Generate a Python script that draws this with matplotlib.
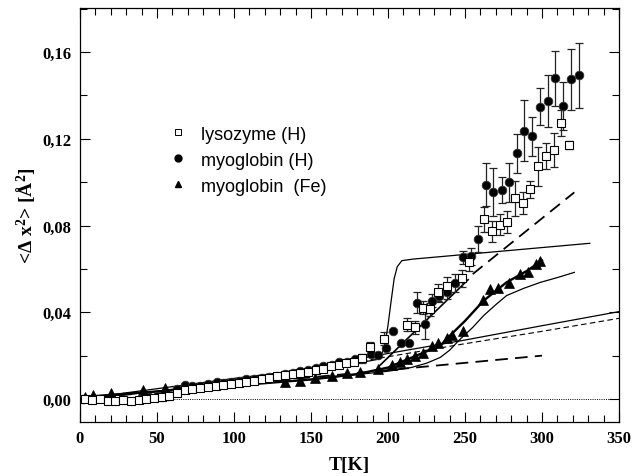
import matplotlib
matplotlib.use("Agg")
import matplotlib.pyplot as plt
from matplotlib.ticker import MultipleLocator, FuncFormatter
from matplotlib.lines import Line2D

# ---------------- data ----------------
lys_T = [3, 8, 13, 18, 23, 28, 33, 38, 43, 48, 53, 58, 63, 68, 73, 78, 83, 88, 93, 98,
         103, 108, 113, 118, 123, 128, 133, 138, 143, 148, 153, 158, 163, 168, 173, 178,
         183, 188, 197.6, 212.5, 217.5, 222.5, 227.3, 232.7, 238, 247.8, 252.8,
         262.6, 267.5, 272.5, 277.5, 282.7, 287.4, 292.4, 297.6, 302.6, 307.8, 312.5, 317.5]
lys_y = [0.0, -0.0005, 0.0, -0.0008, -0.0008, -0.0005, -0.001, -0.0005, 0.0, 0.0005,
         0.001, 0.0015, 0.003, 0.004, 0.0045, 0.005, 0.0055, 0.006, 0.0065, 0.007,
         0.0075, 0.008, 0.0085, 0.009, 0.0095, 0.0105, 0.011, 0.0115, 0.012, 0.0125,
         0.0135, 0.014, 0.015, 0.0155, 0.0165, 0.017, 0.0188, 0.0241, 0.0277, 0.0343,
         0.033, 0.042, 0.0415, 0.0492, 0.0522, 0.0556, 0.063,
         0.0828, 0.0773, 0.0804, 0.0816, 0.0925, 0.0904, 0.0967, 0.1073, 0.1119, 0.1148,
         0.1272, 0.1171]
lys_err = [0]*36 + [0.002, 0.002, 0.003, 0.003, 0.003, 0.003, 0.003, 0.004, 0.004, 0.004, 0.004,
         0.0057, 0.005, 0.005, 0.005, 0.008, 0.005, 0.004, 0.009, 0.006, 0.008, 0.006, 0.002]

myo_T = [2, 45, 50, 53, 57, 62.8, 68, 73, 78, 83, 88.7, 93, 98, 103, 108, 113, 118, 123,
         128, 133, 138, 143, 148, 153, 158, 163.4, 168.4, 173.6, 178.6, 188.7, 193.7,
         198.7, 203.5, 208.4, 213.6, 218.6, 223.8, 228.6, 233.3, 238.5, 243.5, 248.5,
         253.7, 258.7, 263.6, 268.4, 273.8, 278.6, 283.6, 288.5, 293.5, 298.7, 303.7,
         308.6, 313.6, 318.6, 323.8]
myo_y = [0.0, 0.001, 0.0012, 0.0008, 0.0013, 0.0046, 0.0064, 0.006, 0.0062, 0.007, 0.0077,
         0.0075, 0.0078, 0.0085, 0.009, 0.009, 0.0095, 0.01, 0.0105, 0.0115, 0.012, 0.013,
         0.0135, 0.0145, 0.015, 0.0157, 0.0172, 0.0172, 0.0184, 0.0207, 0.0203, 0.0234,
         0.0315, 0.0257, 0.0257, 0.0445, 0.0346, 0.0453, 0.0476, 0.0492, 0.0535, 0.0653,
         0.0658, 0.0738, 0.0988, 0.0956, 0.0965, 0.0999, 0.1133, 0.1237, 0.1211, 0.1348,
         0.1375, 0.1478, 0.1352, 0.1474, 0.1492]
myo_err = [0]*35 + [0.005, 0.007, 0.003, 0.003, 0.003, 0.004, 0.003, 0.004, 0.006,
         0.010, 0.011, 0.006, 0.009, 0.009, 0.014, 0.009, 0.0085, 0.012, 0.0126, 0.011,
         0.014, 0.015]

fe_T = [3.2, 8.7, 19.9, 41.1, 55.2, 133, 142.9, 152.6, 163.4, 173.6, 181.8, 193.7, 202.4,
        207.8, 212.5, 217.5, 222.9, 228.4, 232.7, 238, 241.3, 248.9, 261.9, 266.2, 271.6,
        278.8, 285.7, 290.7, 296.1, 298.7]
fe_y = [0.0008, 0.0018, 0.003, 0.0043, 0.0049, 0.0077, 0.0085, 0.0095, 0.0105, 0.012,
        0.0126, 0.0138, 0.0157, 0.0169, 0.0184, 0.02, 0.0211, 0.0246, 0.0257, 0.028,
        0.0297, 0.0312, 0.0458, 0.0506, 0.051, 0.0533, 0.0576, 0.0587, 0.0622, 0.0635]

# model curves
fit_fe_T = [0, 50, 100, 150, 180, 200, 215, 234, 238, 250, 262, 277, 290, 300]
fit_fe_y = [0.0008, 0.0035, 0.0062, 0.009, 0.0115, 0.0145, 0.019, 0.0246, 0.0277, 0.036,
            0.0453, 0.0538, 0.059, 0.0638]

sharp_T = [0, 100, 180, 195, 198, 200, 202, 204, 206, 209, 216, 331]
sharp_y = [0.0, 0.0095, 0.0165, 0.0185, 0.025, 0.034, 0.045, 0.0555, 0.061, 0.0638,
           0.0645, 0.0718]

soft_T = [0, 150, 200, 215, 225, 234, 240, 247, 255, 262, 270, 277, 288, 299, 310, 321]
soft_y = [0.0008, 0.009, 0.0128, 0.0145, 0.0165, 0.0192, 0.0225, 0.0277, 0.033, 0.0384,
          0.0435, 0.0477, 0.051, 0.0538, 0.056, 0.0584]

anh_T = [0, 50, 100, 150, 200, 250, 300, 350]
anh_y = [0.0, 0.0035, 0.0085, 0.0145, 0.021, 0.0272, 0.0338, 0.0403]

anh2_T = [0, 50, 100, 150, 200, 250, 300, 350]
anh2_y = [0.0, 0.0035, 0.008, 0.0135, 0.0195, 0.0255, 0.0312, 0.0372]

harm_T = [0, 300]
harm_y = [0.0, 0.020]

lin_T = [194, 252]
lin_y = [0.0150, 0.055]

steep_T = [255, 321]
steep_y = [0.0576, 0.0953]

# ---------------- figure ----------------
plt.rcParams["mathtext.fontset"] = "custom"
plt.rcParams["mathtext.rm"] = "Liberation Serif:bold"
plt.rcParams["mathtext.bf"] = "Liberation Serif:bold"
plt.rcParams["mathtext.it"] = "Liberation Serif:bold"

fig = plt.figure(figsize=(6.33, 4.77), dpi=100)
ax = fig.add_axes([80/633, 1-423/477, (619-80)/633, (423-9)/477])

ax.plot([0, 350], [0, 0], color="black", lw=0.7, ls=(0, (1, 1.3)), zorder=1)

ax.plot(harm_T, harm_y, color="black", lw=1.3, ls=(0, (7, 4)), zorder=2)
ax.plot(anh_T, anh_y, color="black", lw=0.9, zorder=2)
ax.plot(anh2_T, anh2_y, color="black", lw=0.8, ls=(0, (5, 3)), zorder=2)
ax.plot(sharp_T, sharp_y, color="black", lw=0.9, zorder=2)
ax.plot(soft_T, soft_y, color="black", lw=0.9, zorder=2)
ax.plot(fit_fe_T, fit_fe_y, color="black", lw=1.7, zorder=2)
ax.plot(lin_T, lin_y, color="black", lw=1.2, zorder=2)
ax.plot(steep_T, steep_y, color="black", lw=1.3, ls=(0, (7, 4)), zorder=2)

ax.errorbar(myo_T, myo_y, yerr=myo_err, fmt="none", ecolor="#222222", elinewidth=0.9,
            capsize=3.2, capthick=0.9, zorder=3)
ax.errorbar(lys_T, lys_y, yerr=lys_err, fmt="none", ecolor="#222222", elinewidth=0.9,
            capsize=3.2, capthick=0.9, zorder=3)

ax.plot(myo_T, myo_y, "o", color="black", ms=6.2, mec="#333333", mew=0.6, zorder=4)
ax.plot(lys_T, lys_y, "s", mfc="white", mec="black", ms=5.2, mew=0.8, zorder=5)
ax.plot(fe_T, fe_y, "^", color="black", ms=6.5, mew=0.5, zorder=4)

ax.set_xlim(0, 350)
ax.set_ylim(-0.0106, 0.1803)
ax.xaxis.set_major_locator(MultipleLocator(50))
ax.xaxis.set_minor_locator(MultipleLocator(10))
ax.yaxis.set_major_locator(MultipleLocator(0.04))
ax.yaxis.set_minor_locator(MultipleLocator(0.02))
ax.yaxis.set_major_formatter(FuncFormatter(lambda v, p: f"{v:.2f}".replace(".", ",").replace("-0,00", "0,00")))
ax.tick_params(which="both", direction="in", top=True, right=True, width=0.8)
ax.tick_params(which="major", length=7)
ax.tick_params(which="minor", length=5)
for lab in ax.get_xticklabels() + ax.get_yticklabels():
    lab.set_fontfamily("Liberation Serif")
    lab.set_fontweight("bold")
    lab.set_fontsize(12)
ax.tick_params(axis="x", pad=6)
ax.tick_params(axis="y", pad=6)
for s in ax.spines.values():
    s.set_linewidth(0.9)

ax.set_xlabel("T[K]", fontfamily="Liberation Serif", fontweight="bold", fontsize=14, labelpad=7)
ax.set_ylabel(r"<$\Delta$ x$^{2}$> [Å$^{2}$]", fontfamily="Liberation Serif",
              fontweight="bold", fontsize=14, labelpad=3)

handles = [
    Line2D([], [], ls="none", marker="s", mfc="white", mec="black", ms=4.2, mew=0.7),
    Line2D([], [], ls="none", marker="o", color="black", ms=5),
    Line2D([], [], ls="none", marker="^", color="black", ms=5),
]
leg = ax.legend(handles, ["lysozyme (H)", "myoglobin (H)", "myoglobin  (Fe)"],
                loc="upper left", bbox_to_anchor=(0.155, 0.729), frameon=False,
                prop={"family": "Liberation Sans", "size": 13}, handletextpad=0.75,
                labelspacing=0.5, handlelength=1.0, borderaxespad=0, borderpad=0.3)

fig.savefig("out.png", dpi=100)
